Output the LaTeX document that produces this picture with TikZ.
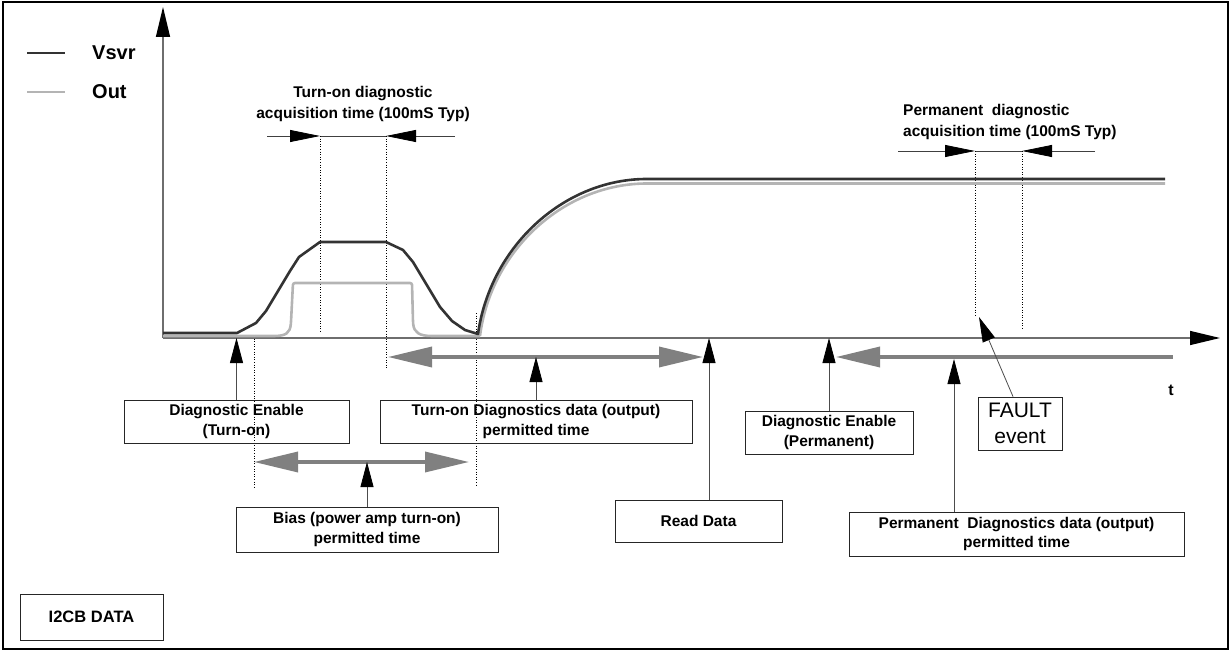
\documentclass[tikz,border=0pt]{standalone}
\usepackage{fontspec}
\setmainfont{Liberation Sans}
\usetikzlibrary{arrows.meta,positioning,calc}
\definecolor{vsvrcol}{HTML}{333333}
\definecolor{outcol}{HTML}{B4B4B4}
\definecolor{axiscol}{HTML}{6E6E6E}
\definecolor{spancol}{HTML}{808080}
\tikzset{
  spanhead/.tip={Triangle[length=44pt,width=20pt]},
  pointhead/.tip={Triangle[length=25pt,width=13pt,black]},
  dimhead/.tip={Triangle[length=30pt,width=12pt,black]},
  axishead/.tip={Triangle[length=30pt,width=14pt,black]}
}

\begin{document}
\begin{tikzpicture}[x=1pt,y=-1pt,
  box/.style={draw=black!85, line width=0.8pt, align=center, inner sep=0pt, font=\bfseries\fontsize{15.5}{19.5}\selectfont},
  lbl/.style={inner sep=0pt, font=\bfseries\fontsize{15.5}{20.5}\selectfont},
  keylbl/.style={inner sep=0pt, anchor=west, font=\bfseries\fontsize{20}{20}\selectfont},
  vsvr/.style={vsvrcol, line width=2.6pt, line join=round},
  outl/.style={outcol, line width=2.6pt, line join=round},
  axis/.style={axiscol, line width=1.4pt, -axishead},
  pointer/.style={black!70, line width=0.8pt, -pointhead},
  span/.style={spancol, line width=3.5pt},
  dimline/.style={black!75, line width=0.8pt},
  guide/.style={black, line width=0.6pt, dotted}]
\useasboundingbox (0,0) rectangle (1231,652);
\draw[line width=2pt] (3,2) rectangle (1228,649);

\draw[vsvr] (27,53) -- (65,53);
\draw[outl] (27,92) -- (65,92);
\node[keylbl] (vsvrkey) at (92,53) {Vsvr};
\node[keylbl] (outkey) at (92,92) {Out};

\coordinate (origin) at (163,338);
\coordinate (ytip) at (163,7);
\coordinate (ttip) at (1220,338);
\draw[axis] (origin) -- (ytip);
\draw[axis] (origin) -- (ttip);
\node[font=\bfseries\fontsize{16}{16}\selectfont] (tlbl) at (1171,390) {t};

\node[lbl, align=center] (acqon) at (363,104) {Turn-on diagnostic\\acquisition time (100mS Typ)};
\node[lbl, align=left, anchor=west] (acqperm) at (903,122) {Permanent\ \ diagnostic\\acquisition time (100mS Typ)};

\coordinate (on0) at (267,136);
\coordinate (on1) at (320,136);
\coordinate (on2) at (386,136);
\coordinate (on3) at (455,136);
\draw[dimline, -dimhead] (on0) -- (on1);
\draw[dimline] (on1) -- (on2);
\draw[dimline, -dimhead] (on3) -- (on2);
\coordinate (pm0) at (898,151);
\coordinate (pm1) at (975,151);
\coordinate (pm2) at (1022,151);
\coordinate (pm3) at (1095,151);
\draw[dimline, -dimhead] (pm0) -- (pm1);
\draw[dimline] (pm1) -- (pm2);
\draw[dimline, -dimhead] (pm3) -- (pm2);

\draw[guide] (on1) -- (320,333);
\draw[guide] (on2) -- (386,368);
\draw[guide] (254,336) -- (254,487);
\draw[guide] (476,313) -- (476,487);
\draw[guide] (pm1) -- (975,315);
\draw[guide] (pm2) -- (1022,330);

\draw[outl, rounded corners=2pt] (163,336) -- (272,336) .. controls (286,336) and (290,333) .. (291,322) -- (293,283) -- (412,283) -- (413,322) .. controls (414,333) and (420,336) .. (434,336) -- (480,336);
\draw[outl] (480,336) .. controls (491,250) and (564,183.5) .. (647,183.5) -- (1165,183.5);
\draw[vsvr] (163,333) -- (237,333) -- (256,323) -- (266,311) -- (290,271) -- (299,257) -- (320,242) -- (386,242) -- (403,250) -- (413,262) -- (440,307) -- (452,321) -- (465,330) -- (478,334) .. controls (490,248) and (562,180) .. (645,179) -- (1165,179);

\coordinate (onl) at (388,357);
\coordinate (onr) at (703,357);
\coordinate (bl) at (254,462);
\coordinate (br) at (469,462);
\coordinate (pl) at (836,357);
\coordinate (pr) at (1173,357);
\draw[span, spanhead-spanhead] (onl) -- (onr);
\draw[span, spanhead-spanhead] (bl) -- (br);
\draw[span, spanhead-] (pl) -- (pr);

\node[box, minimum width=225pt, minimum height=43pt] (enton) at (236.5,421.5) {Diagnostic Enable\\(Turn-on)};
\node[box, minimum width=312pt, minimum height=43pt] (dataon) at (536,421.5) {Turn-on Diagnostics data (output)\\permitted time};
\node[box, minimum width=262pt, minimum height=45pt] (bias) at (367,529.5) {Bias (power amp turn-on)\\permitted time};
\node[box, minimum width=167pt, minimum height=42pt] (readdata) at (698.5,521) {Read Data};
\node[box, minimum width=168pt, minimum height=43pt] (enperm) at (829,432.5) {Diagnostic Enable\\(Permanent)};
\node[box, font=\fontsize{21}{26}\selectfont, minimum width=84pt, minimum height=53pt] (fault) at (1020,423.5) {FAULT\\event};
\node[box, minimum width=335pt, minimum height=44pt] (dataperm) at (1016.5,534) {Permanent\ \ Diagnostics data (output)\\permitted time};
\node[box, font=\bfseries\fontsize{16.5}{20}\selectfont, minimum width=143pt, minimum height=46pt] (icbdata) at (91.5,617) {I2CB DATA};

\coordinate (rdtip) at (709,338);
\coordinate (pdtip) at (954,359);
\coordinate (flttip) at (979,317);
\draw[pointer] (enton.north) -- (enton.north |- origin);
\draw[pointer] (dataon.north) -- (dataon.north |- onl);
\draw[pointer] (bias.north) -- (bias.north |- bl);
\draw[pointer] (rdtip |- readdata.north) -- (rdtip);
\draw[pointer] (enperm.north) -- (enperm.north |- origin);
\draw[pointer] (pdtip |- dataperm.north) -- (pdtip);
\draw[pointer] ([xshift=-7pt]fault.north) -- (flttip);
\end{tikzpicture}
\end{document}
